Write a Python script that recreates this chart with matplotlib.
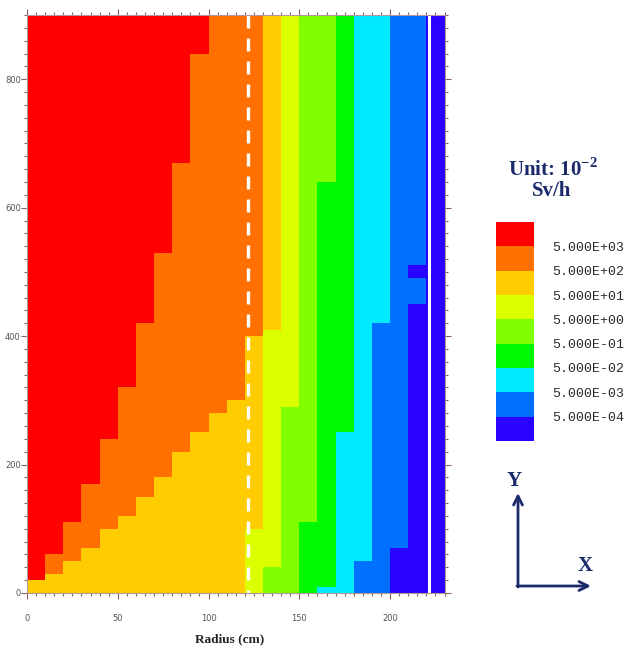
import numpy as np
import matplotlib
matplotlib.use('Agg')
import matplotlib.pyplot as plt
from matplotlib.colors import ListedColormap, BoundaryNorm
from matplotlib.cm import ScalarMappable
from matplotlib.ticker import MultipleLocator

# ---------------- data ----------------
# dose-rate bands, lowest to highest
band_colors = ['#2a00ff', '#0070ff', '#00eaff', '#00f800', '#80ff00',
               '#dcff00', '#ffcc00', '#ff7000', '#ff0000']
threshold_labels = ['5.000E-04', '5.000E-03', '5.000E-02', '5.000E-01',
                    '5.000E+00', '5.000E+01', '5.000E+02', '5.000E+03']
DB, B, C, G, LG, YG, Y, O, R = range(9)

col_edges = np.arange(0, 230, 10)   # radius (cm), left edge of each column
height_top = 900

# per column: top of each band (cm) and its band id, from the floor up
band_tops = [
    [20, 900],
    [30, 60, 900],
    [50, 110, 900],
    [70, 170, 900],
    [100, 240, 900],
    [120, 320, 900],
    [150, 420, 900],
    [180, 530, 900],
    [220, 670, 900],
    [250, 840, 900],
    [280, 900],
    [300, 900],
    [100, 400, 900],
    [40, 410, 900],
    [290, 900],
    [110, 900],
    [10, 640, 900],
    [250, 900],
    [50, 900],
    [420, 900],
    [70, 900],
    [450, 490, 510, 900],
    [900],
]
band_ids = [
    [Y, R],
    [Y, O, R],
    [Y, O, R],
    [Y, O, R],
    [Y, O, R],
    [Y, O, R],
    [Y, O, R],
    [Y, O, R],
    [Y, O, R],
    [Y, O, R],
    [Y, O],
    [Y, O],
    [YG, Y, O],
    [LG, YG, Y],
    [LG, YG],
    [G, LG],
    [C, G, LG],
    [C, G],
    [B, C],
    [B, C],
    [DB, B],
    [DB, B, DB, B],
    [DB],
]

dashed_x = 122      # dashed white marker
solid_x = 221.6     # solid white marker

navy = '#1b2a6b'
tick_col = '#8a6262'

# ---------------- figure ----------------
W, H = 625, 653
fig = plt.figure(figsize=(W / 100, H / 100), dpi=100)
ax = fig.add_axes([27 / W, 1 - 593 / H, 417.5 / W, 578 / H])

cmap = ListedColormap(band_colors)

for x0, tops, ids in zip(col_edges, band_tops, band_ids):
    bottoms = [0] + tops[:-1]
    heights = np.diff([0] + tops)
    ax.bar([x0] * len(tops), heights, bottom=bottoms, width=10, align='edge',
           color=[band_colors[k] for k in ids], linewidth=0, antialiased=False)

ax.plot([dashed_x, dashed_x], [height_top, 0], color='white', lw=2.4,
        dashes=(3.9, 3.0))
ax.axvline(solid_x, color='white', lw=2.2)

ax.set_xlim(0, 230)
ax.set_ylim(0, height_top)

ax.xaxis.set_major_locator(MultipleLocator(50))
ax.xaxis.set_minor_locator(MultipleLocator(5))
ax.yaxis.set_major_locator(MultipleLocator(200))
ax.yaxis.set_minor_locator(MultipleLocator(20))
ax.tick_params(which='both', direction='out', top=True, right=True,
               color=tick_col, labelsize=6, labelcolor='#555555', width=0.8)
ax.tick_params(which='major', length=4)
ax.tick_params(which='minor', length=2)
ax.tick_params(axis='x', pad=11)
ax.tick_params(axis='y', pad=0.5)
for s in ax.spines.values():
    s.set_color('#b09898')
    s.set_linewidth(0.8)

ax.set_xlabel('Radius (cm)', family='Liberation Serif', fontweight='bold',
              fontsize=9.5, color='#222222')
ax.xaxis.set_label_coords((230 - 27) / 417.5, -(633 - 593) / 578)

# ---------------- legend bar ----------------
cax = fig.add_axes([496 / W, 1 - 441 / H, 38 / W, 219 / H])
cb = fig.colorbar(ScalarMappable(norm=BoundaryNorm(np.arange(10), 9), cmap=cmap),
                  cax=cax, ticks=np.arange(1, 9))
cb.set_ticklabels(threshold_labels)
cb.outline.set_visible(False)
cax.minorticks_off()
cax.tick_params(which='both', length=0, pad=13, labelsize=9.5,
                labelcolor='#2a2a2a')
for t in cax.get_yticklabels():
    t.set_family('Liberation Mono')

plt.rcParams['mathtext.fontset'] = 'custom'
plt.rcParams['mathtext.bf'] = 'Liberation Serif:bold'
plt.rcParams['mathtext.rm'] = 'Liberation Serif:bold'

fig.text(553 / W, 1 - 170 / H, r'Unit: 10$^{\mathbf{-2}}$', ha='center',
         va='center', fontsize=15, fontweight='bold', family='Liberation Serif',
         color=navy)
fig.text(552 / W, 1 - 191 / H, 'Sv/h', ha='center', va='center', fontsize=15,
         fontweight='bold', family='Liberation Serif', color=navy)

# ---------------- axis arrows ----------------
arrow_kw = dict(arrowstyle='->', lw=2, color=navy, mutation_scale=16,
                shrinkA=0, shrinkB=0)
fig.add_artist(plt.Annotation('', xy=(518 / W, 1 - 493 / H),
                              xytext=(518 / W, 1 - 587 / H),
                              xycoords='figure fraction', arrowprops=arrow_kw))
fig.add_artist(plt.Annotation('', xy=(591 / W, 1 - 586 / H),
                              xytext=(517 / W, 1 - 586 / H),
                              xycoords='figure fraction', arrowprops=arrow_kw))
fig.text(514 / W, 1 - 481 / H, 'Y', ha='center', va='center', fontsize=15,
         fontweight='bold', family='Liberation Serif', color=navy)
fig.text(585 / W, 1 - 566 / H, 'X', ha='center', va='center', fontsize=15,
         fontweight='bold', family='Liberation Serif', color=navy)

fig.savefig('out.png', dpi=100)
